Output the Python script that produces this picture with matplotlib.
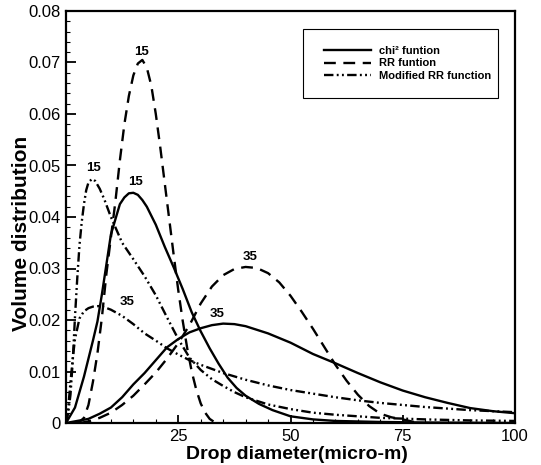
import matplotlib
matplotlib.use('Agg')
import matplotlib.pyplot as plt
from matplotlib.ticker import MultipleLocator, FuncFormatter
from matplotlib.patches import Rectangle

plt.rcParams['font.family'] = ['Liberation Sans', 'DejaVu Sans']

# ---- data ----
# chi^2 function, mean 15
chi15_x = [0, 2, 4, 6, 7, 8, 10, 12, 13, 14, 15, 16, 17, 18, 20, 22, 24, 26, 28, 30,
           32, 34, 36, 38, 40, 43, 46, 50, 55, 60, 70, 80, 100]
chi15_y = [0, 0.003, 0.009, 0.016, 0.0197, 0.025, 0.0366, 0.0425, 0.0438, 0.0446, 0.0447,
           0.0443, 0.0433, 0.042, 0.0385, 0.0342, 0.0302, 0.026, 0.0215, 0.0178,
           0.0145, 0.0115, 0.0088, 0.0068, 0.0053, 0.0037, 0.0025, 0.0013, 0.0007,
           0.0004, 0.0002, 0.0001, 0]
# chi^2 function, mean 35
chi35_x = [0, 5, 7.5, 10, 12.5, 15, 17.5, 20, 22.5, 25, 27.5, 30, 32.5, 35, 37.5, 40,
           45, 50, 55, 60, 65, 70, 75, 80, 85, 90, 95, 100]
chi35_y = [0, 0.0008, 0.0018, 0.003, 0.005, 0.0075, 0.0097, 0.0122, 0.0147, 0.0163,
           0.0176, 0.0184, 0.019, 0.0193, 0.0192, 0.0188, 0.0174, 0.0156, 0.0134,
           0.0116, 0.0097, 0.0079, 0.0063, 0.005, 0.0039, 0.0029, 0.0023, 0.0019]
# RR function, mean 15
rr15_x = [2, 3, 4, 5, 6, 7, 8, 9, 10, 11, 12, 13, 14, 15, 16, 17, 18, 19, 20, 21, 22,
          23, 24, 25, 26, 27, 28, 29, 30, 31, 32, 33]
rr15_y = [0, 0.0002, 0.001, 0.0035, 0.008, 0.0135, 0.0205, 0.029, 0.036, 0.043, 0.051,
          0.058, 0.0635, 0.0675, 0.0698, 0.0705, 0.069, 0.0655, 0.06, 0.0535, 0.0465,
          0.0395, 0.0325, 0.0258, 0.0198, 0.0145, 0.010, 0.0065, 0.0038, 0.002,
          0.0008, 0.0002]
# RR function, mean 35
rr35_x = [3, 5, 7.5, 10, 12.5, 15, 17.5, 20, 22.5, 25, 27.5, 30, 32.5, 35, 37.5, 40,
          42.5, 45, 47.5, 50, 52.5, 55, 57.5, 60, 62.5, 65, 67.5, 70, 72.5, 75, 77.5]
rr35_y = [0, 0.0003, 0.001, 0.002, 0.0035, 0.0053, 0.0075, 0.0098, 0.0125, 0.0155,
          0.019, 0.0232, 0.0265, 0.0287, 0.0299, 0.0303, 0.0301, 0.0291, 0.0273,
          0.0247, 0.0216, 0.0183, 0.0148, 0.0113, 0.0082, 0.0055, 0.0033, 0.0018,
          0.0011, 0.0007, 0.0002]
# modified RR function, mean 15
mrr15_x = [0, 0.5, 1, 1.5, 2, 2.5, 3, 3.5, 4, 4.5, 5, 5.8, 6.5, 7.5, 8.5, 10, 12.5, 15,
           17.5, 20, 22.5, 25, 27.5, 30, 32.5, 35, 37.5, 40, 45, 50, 55, 60, 65, 70,
           80, 90, 100]
mrr15_y = [0, 0.002, 0.0055, 0.012, 0.0206, 0.028, 0.0345, 0.039, 0.0425, 0.0452,
           0.0467, 0.0474, 0.047, 0.0455, 0.0435, 0.040, 0.035, 0.0318, 0.0285,
           0.0248, 0.0205, 0.0163, 0.0127, 0.0103, 0.0085, 0.0072, 0.006, 0.005,
           0.0036, 0.0027, 0.002, 0.0016, 0.0013, 0.001, 0.0007, 0.0005, 0.0004]
# modified RR function, mean 35
mrr35_x = [0, 0.5, 1, 1.5, 2, 3, 4, 5, 6, 7.2, 8.5, 10, 12.5, 15, 17.5, 20, 22.5, 25,
           27.5, 30, 35, 40, 45, 50, 55, 60, 65, 70, 75, 80, 85, 90, 95, 100]
mrr35_y = [0, 0.003, 0.008, 0.0125, 0.0163, 0.0203, 0.0217, 0.0223, 0.0226, 0.0227,
           0.0225, 0.022, 0.0208, 0.0192, 0.0174, 0.016, 0.0145, 0.0133, 0.0122,
           0.0113, 0.0097, 0.0084, 0.0073, 0.0064, 0.0057, 0.005, 0.0044, 0.0039,
           0.0035, 0.0031, 0.0028, 0.0025, 0.0023, 0.0021]

# curve labels: (text, x, y)
peak_labels = [('15', 16.9, 0.0708), ('15', 6.1, 0.0484), ('15', 15.5, 0.0457),
               ('35', 41.0, 0.0310), ('35', 33.6, 0.0200), ('35', 13.5, 0.0224)]

legend_names = ['chi² funtion', 'RR funtion', 'Modified RR function']

# ---- figure ----
fig = plt.figure(figsize=(5.41, 4.65), dpi=100)
ax = fig.add_axes([66/541, 1 - 423/465, 449/541, 412/465])

lw = 1.7
dash = (0, (5.0, 3.2))
dashdotdot = (0, (4.0, 1.4, 0.8, 1.4, 0.8, 1.4))

l1, = ax.plot(chi15_x, chi15_y, color='black', lw=lw, ls='-')
ax.plot(chi35_x, chi35_y, color='black', lw=lw, ls='-')
l2, = ax.plot(rr15_x, rr15_y, color='black', lw=lw, ls=dash)
ax.plot(rr35_x, rr35_y, color='black', lw=lw, ls=dash)
l3, = ax.plot(mrr15_x, mrr15_y, color='black', lw=lw, ls=dashdotdot)
ax.plot(mrr35_x, mrr35_y, color='black', lw=lw, ls=dashdotdot)

for txt, x, y in peak_labels:
    ax.text(x, y, txt, ha='center', va='bottom', fontsize=9.5, fontweight='bold')

ax.set_xlim(0, 100)
ax.set_ylim(0, 0.08)
ax.set_xticks([0, 25, 50, 75, 100])
ax.xaxis.set_minor_locator(MultipleLocator(5))
ax.set_yticks([0, 0.01, 0.02, 0.03, 0.04, 0.05, 0.06, 0.07, 0.08])
ax.yaxis.set_minor_locator(MultipleLocator(0.002))
ax.xaxis.set_major_formatter(FuncFormatter(lambda v, p: '' if v == 0 else '%d' % v))
ax.yaxis.set_major_formatter(FuncFormatter(lambda v, p: '0' if abs(v) < 1e-9 else '%.2f' % v))

ax.tick_params(which='both', direction='in', top=False, right=False, labelsize=12,
               width=1.3)
ax.tick_params(axis='x', which='major', length=6, pad=4)
ax.tick_params(axis='y', which='major', length=7, pad=4)
ax.tick_params(which='minor', length=3, width=0.8)
for s in ax.spines.values():
    s.set_linewidth(1.6)

ax.set_xlabel('Drop diameter(micro-m)', fontsize=14, fontweight='bold')
ax.xaxis.set_label_coords(0.515, -0.055)
ax.set_ylabel('Volume distribution', fontsize=15, fontweight='bold')
ax.yaxis.label.set_va('baseline')
ax.yaxis.set_label_coords(-0.087, 0.46)

# legend with a plain square frame
fig.patches.append(Rectangle((303/541, 1 - 98/465), 195/541, 69/465,
                             transform=fig.transFigure, fill=False,
                             edgecolor='black', lw=0.8))
fig.legend([l1, l2, l3], legend_names, loc='center',
           bbox_to_anchor=(310/541, 1 - 98/465, 195/541, 69/465),
           frameon=False, prop={'size': 8, 'weight': 'bold'},
           handlelength=4.3, handletextpad=0.7, labelspacing=0.25)

fig.savefig('out.png', dpi=100)
